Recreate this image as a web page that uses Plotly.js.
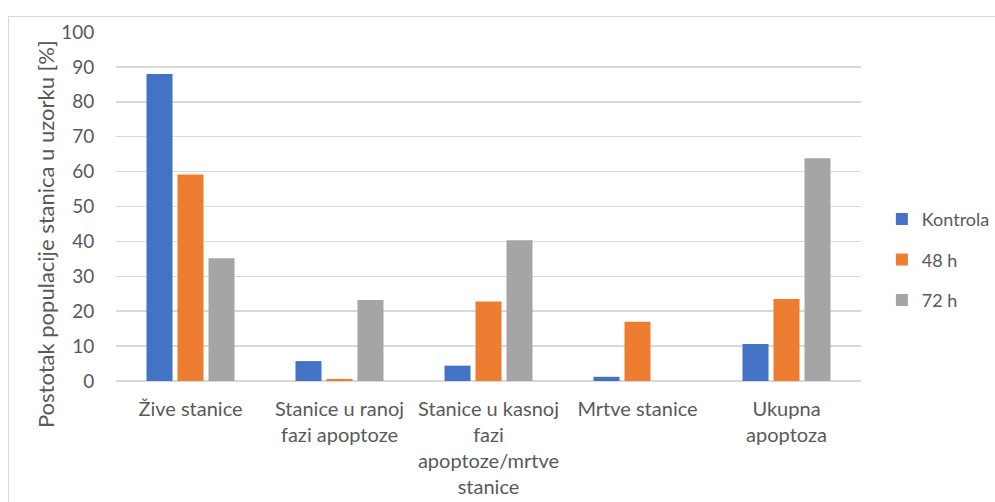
<!DOCTYPE html>
<html>
<head>
<meta charset="utf-8">
<script src="https://cdn.plot.ly/plotly-3.0.1.min.js"></script>
<style>
body{margin:0;padding:0;background:#fff;}
#wrap{position:relative;width:995px;height:502px;overflow:hidden;}
#chart{position:absolute;left:0;top:0;width:995px;height:502px;}
#frame{position:absolute;left:8px;top:16px;width:1000px;height:500px;border:1px solid #d9d9d9;pointer-events:none;}
</style>
</head>
<body>
<div id="wrap"><div id="chart"></div><div id="frame"></div></div>
<script>
const categories = ["Žive stanice", "Stanice u ranoj<br>fazi apoptoze", "Stanice u kasnoj<br>fazi<br>apoptoze/mrtve<br>stanice", "Mrtve stanice", "Ukupna<br>apoptoza"];
const seriesNames = ["Kontrola", "48 h", "72 h"];
const kontrola = [88.0, 5.7, 4.4, 1.2, 10.6];
const h48 = [59.2, 0.6, 22.8, 17.0, 23.5];
const h72 = [35.2, 23.2, 40.3, 0, 63.8];
const yTicks = [0, 10, 20, 30, 40, 50, 60, 70, 80, 90, 100];
const yTitle = "Postotak populacije stanica u uzorku [%]";

const colors = ["#4472C4", "#ED7D31", "#A5A5A5"];
const values = [kontrola, h48, h72];
const font = "Lato, 'Open Sans', sans-serif";

const traces = values.map((v, i) => ({
  type: "bar",
  name: seriesNames[i],
  x: categories,
  y: v,
  legendgroup: "g" + i,
  marker: {color: colors[i], line: {width: 0}},
  hoverinfo: "x+y+name"
}));

const layout = {
  width: 995, height: 502,
  margin: {l: 116, r: 134, t: 32, b: 121, autoexpand: false},
  paper_bgcolor: "rgba(0,0,0,0)",
  plot_bgcolor: "#fff",
  barmode: "group",
  bargap: 0.376,
  bargroupgap: 0.16,
  font: {family: font, size: 19, color: "#595959"},
  showlegend: true,
  legend: {
    x: 1.028, y: 0.347, xanchor: "left", yanchor: "middle",
    font: {family: font, size: 18, color: "#595959"},
    tracegroupgap: 14,
    itemwidth: 30,
    bgcolor: "rgba(0,0,0,0)"
  },
  xaxis: {
    type: "category",
    showgrid: false,
    showline: false,
    zeroline: false,
    ticks: "outside", ticklen: 10, tickcolor: "rgba(0,0,0,0)",
    tickfont: {family: font, size: 20, color: "#595959"},
    tickangle: 0
  },
  yaxis: {
    range: [0, 100],
    tickvals: yTicks,
    ticktext: yTicks.map(String),
    showgrid: true, gridcolor: "#d9d9d9", gridwidth: 1.5,
    zeroline: true, zerolinecolor: "#d9d9d9", zerolinewidth: 1.5,
    showline: false,
    ticks: "outside", ticklen: 17, tickcolor: "rgba(0,0,0,0)",
    tickfont: {family: font, size: 19, color: "#595959"}
  },
  annotations: [{
    text: yTitle, xref: "paper", yref: "paper",
    x: -0.0953, y: 0.421, xanchor: "center", yanchor: "middle",
    textangle: -90, showarrow: false,
    font: {family: font, size: 22, color: "#595959"}
  }]
};

Plotly.newPlot("chart", traces, layout, {displayModeBar: false, staticPlot: true});
</script>
</body>
</html>
